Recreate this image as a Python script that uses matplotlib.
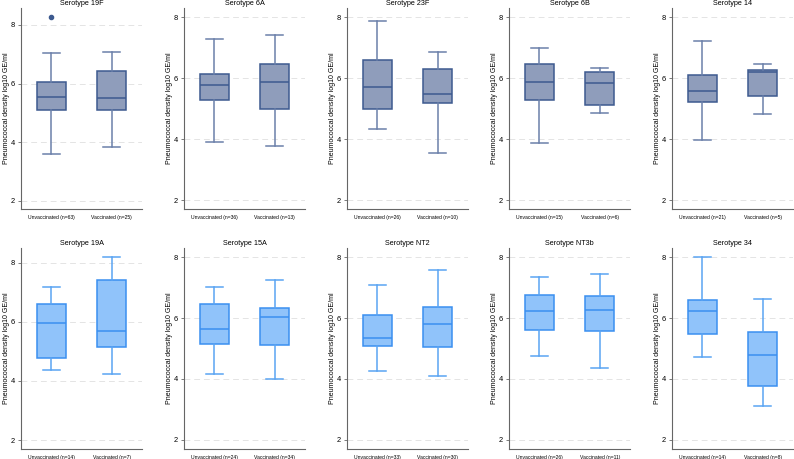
import matplotlib
matplotlib.use("Agg")
from matplotlib import pyplot as plt

plt.rcParams['font.family'] = ['Liberation Sans', 'DejaVu Sans']

# serotypes and group sizes
serotypes = ['19F', '6A', '23F', '6B', '14', '19A', '15A', 'NT2', 'NT3b', '34']
n_unvacc = [63, 36, 26, 15, 21, 14, 24, 33, 26, 14]
n_vacc = [25, 13, 10, 6, 5, 7, 34, 30, 11, 8]

# box stats: (whisker low, Q1, median, Q3, whisker high)
unvacc = [
    (3.60, 5.09, 5.53, 6.07, 7.03),
    (3.92, 5.28, 5.78, 6.14, 7.28),
    (4.33, 5.00, 5.73, 6.59, 7.87),
    (3.87, 5.28, 5.87, 6.48, 6.99),
    (3.98, 5.21, 5.57, 6.11, 7.23),
    (4.36, 4.77, 5.97, 6.60, 7.18),
    (4.15, 5.16, 5.65, 6.47, 7.01),
    (4.27, 5.07, 5.33, 6.11, 7.08),
    (4.74, 5.60, 6.22, 6.75, 7.35),
    (4.71, 5.47, 6.22, 6.59, 8.00),
]
vacc = [
    (3.85, 5.11, 5.52, 6.42, 7.07),
    (3.77, 5.00, 5.87, 6.48, 7.41),
    (3.55, 5.18, 5.48, 6.30, 6.85),
    (4.87, 5.13, 5.83, 6.20, 6.34),
    (4.82, 5.43, 6.20, 6.26, 6.48),
    (4.22, 5.13, 5.67, 7.41, 8.19),
    (4.01, 5.11, 6.03, 6.33, 7.24),
    (4.11, 5.04, 5.80, 6.35, 7.59),
    (4.35, 5.58, 6.27, 6.72, 7.46),
    (3.12, 3.77, 4.80, 5.54, 6.63),
]
outliers_unvacc = [[8.28], [], [], [], [], [], [], [], [], []]

fig = plt.figure(figsize=(7.94, 4.59), dpi=100)
W, H = 794, 459
lefts = [21, 184, 347, 509, 672]
rows = [(8, 209), (248, 449)]

# colours for the two rows
fills = ['#8f9dbb', '#90c3fa']
edges = ['#3d5a8f', '#3a8ff0']
whisk = ['#6b80aa', '#5aa4f2']

for i, s in enumerate(serotypes):
    r, c = divmod(i, 5)
    top, bot = rows[r]
    ax = fig.add_axes([lefts[c] / W, 1 - bot / H, 121 / W, (bot - top) / H])
    stats = []
    for vals, n, lab, fl in [(unvacc[i], n_unvacc[i], 'Unvaccinated', outliers_unvacc[i]),
                             (vacc[i], n_vacc[i], 'Vaccinated', [])]:
        lo, q1, med, q3, hi = vals
        stats.append(dict(whislo=lo, q1=q1, med=med, q3=q3, whishi=hi,
                          fliers=fl, label='%s (n=%d)' % (lab, n)))
    ax.bxp(stats, positions=[1, 2], widths=0.48, patch_artist=True,
           boxprops=dict(facecolor=fills[r], edgecolor=edges[r], linewidth=1.1),
           medianprops=dict(color=edges[r], linewidth=1.1),
           whiskerprops=dict(color=whisk[r], linewidth=1.1),
           capprops=dict(color=whisk[r], linewidth=1.1),
           capwidths=0.28,
           flierprops=dict(marker='o', markersize=3, markerfacecolor=edges[r],
                           markeredgecolor=edges[r]))
    ymax = max(8, max(max(unvacc[i]), max(vacc[i]), *(outliers_unvacc[i] or [0])))
    ax.set_ylim(1.72 - 0.02 * r, ymax + 0.3)
    ax.set_xlim(0.5, 2.5)
    ax.set_yticks([2, 4, 6, 8])
    ax.yaxis.grid(True, color='#e4e4e4', linestyle=(0, (6, 4)), linewidth=0.7)
    ax.set_axisbelow(True)
    for sp in ['top', 'right']:
        ax.spines[sp].set_visible(False)
    for sp in ['left', 'bottom']:
        ax.spines[sp].set_color('#666666')
        ax.spines[sp].set_linewidth(0.8)
    ax.tick_params(axis='y', labelsize=5.4, length=2.5, width=0.6, color='#666666', pad=2)
    ax.tick_params(axis='x', labelsize=3.6, length=0, pad=4)
    ax.set_ylabel('Pneumococcal density log10 GE/ml', fontsize=5)
    ax.yaxis.set_label_coords(-0.095, 0.5)
    ax.set_title('Serotype ' + s, fontsize=5.2, pad=2)

plt.savefig('out.png', dpi=100)
